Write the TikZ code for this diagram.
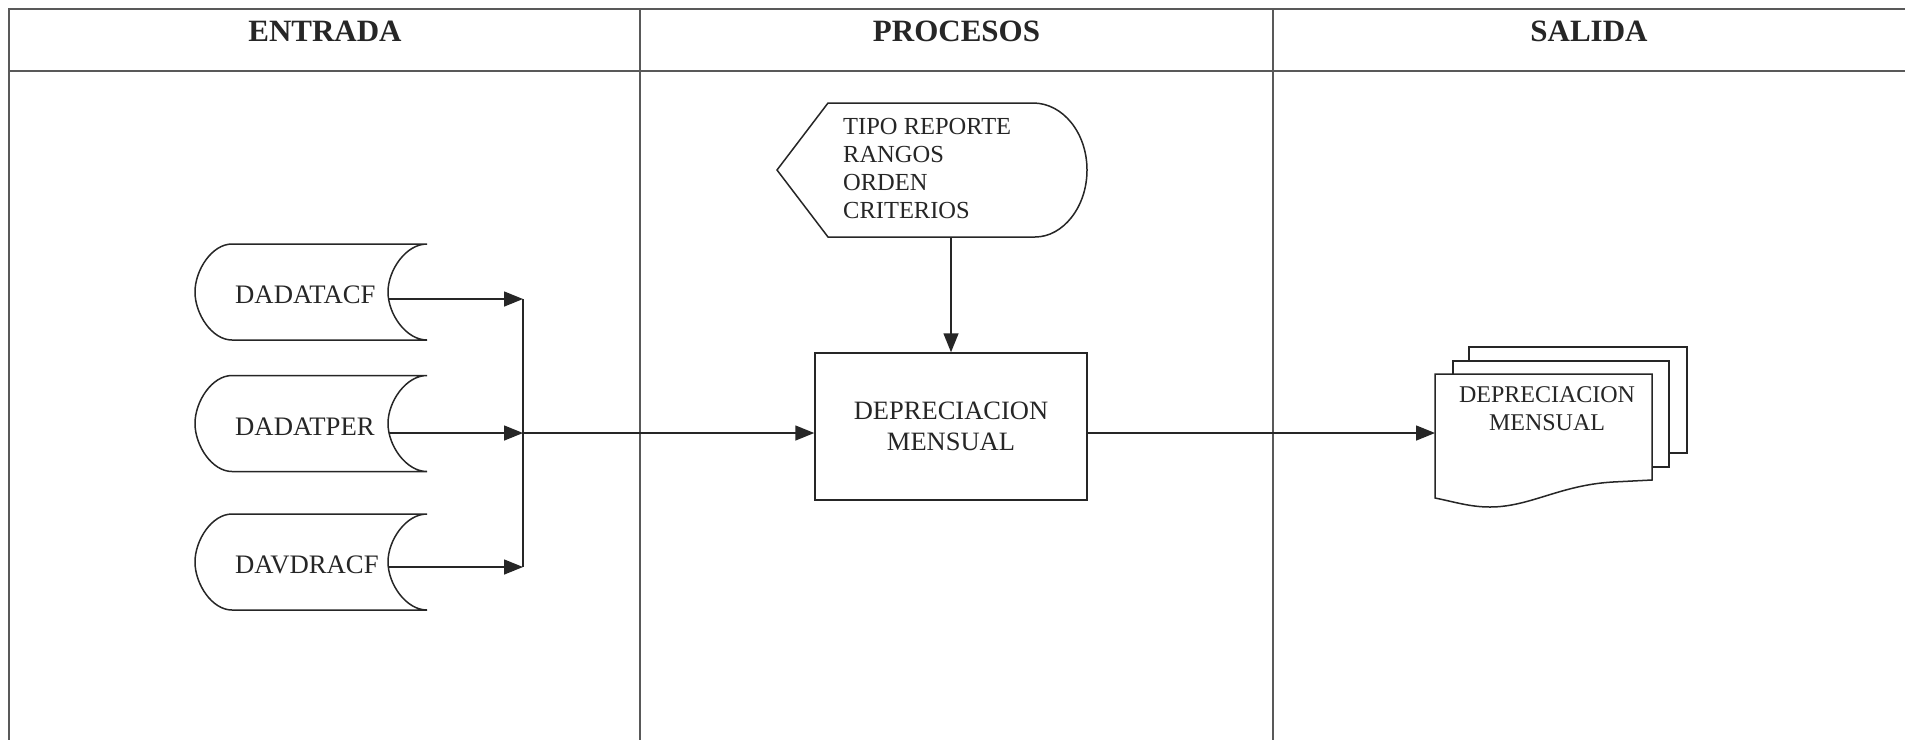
\documentclass[tikz,border=0pt]{standalone}
\usepackage{fontspec}
\setmainfont{Liberation Serif}
\usetikzlibrary{arrows.meta}
\begin{document}
\begin{tikzpicture}[x=1pt,y=-1pt,
  gridline/.style={draw=black!65, line width=1.6pt},
  shp/.style={draw=black!85, line width=1.5pt, fill=white},
  arr/.style={draw=black!85, line width=1.5pt, -{Triangle[length=19pt,width=15pt]}},
  con/.style={draw=black!85, line width=1.5pt},
  hdr/.style={font=\fontsize{31}{37}\selectfont\bfseries, text=black!85, inner sep=0pt, anchor=base},
  lbl/.style={font=\fontsize{26.7}{32}\selectfont, text=black!85, inner sep=0pt, anchor=west},
]
\useasboundingbox[fill=white] (0,0) rectangle (1905,740);

% table
\draw[gridline] (1905,9) -- (9,9) -- (9,740);
\draw[gridline] (9,71) -- (1905,71);
\draw[gridline] (640,9) -- (640,740);
\draw[gridline] (1273,9) -- (1273,740);
\node[hdr] (h1) at (325,41) {ENTRADA};
\node[hdr] (h2) at (956.5,41) {PROCESOS};
\node[hdr] (h3) at (1589,41) {SALIDA};

% stored data shapes
\foreach \n/\cy/\t/\ay in {s1/292/DADATACF/299, s2/423.5/DADATPER/433, s3/562/DAVDRACF/567} {
  \draw[shp] (232,\cy-48) -- (427,\cy-48) .. controls (406,\cy-48) and (388,\cy-22) .. (388,\cy)
    .. controls (388,\cy+22) and (406,\cy+48) .. (427,\cy+48) -- (232,\cy+48)
    .. controls (212,\cy+48) and (195,\cy+22) .. (195,\cy)
    .. controls (195,\cy-22) and (212,\cy-48) .. (232,\cy-48) -- cycle;
  \node[lbl] (\n) at (235,\cy+3) {\t};
  \coordinate (\n-e) at (389,\ay);
}
\coordinate (j1) at (523,299);
\coordinate (j2) at (523,433);
\coordinate (j3) at (523,567);
\draw[arr] (s1-e) -- (j1);
\draw[arr] (s2-e) -- (j2);
\draw[arr] (s3-e) -- (j3);
\draw[con] (j1) -- (j3);

% process box
\node[draw=black!85, line width=1.5pt, minimum width=272pt, minimum height=147pt, align=center,
      font=\fontsize{26.5}{31}\selectfont, text=black!85, inner sep=0pt] (box) at (951,426.5) {DEPRECIACION\\MENSUAL};
\draw[arr] (j2) -- (j2 -| box.west);

% display shape
\draw[shp] (777,170) -- (828,103) -- (1033,103) .. controls (1063,103) and (1087,133) .. (1087,170)
  .. controls (1087,207) and (1063,237) .. (1035,237) -- (828,237) -- cycle;
\node[anchor=west, align=left, font=\fontsize{24.5}{27.7}\selectfont, text=black!85, inner sep=0pt] (disp) at (843,168.5)
  {TIPO REPORTE\\RANGOS\\ORDEN\\CRITERIOS};
\coordinate (dispb) at (951,237);
\draw[arr] (dispb) -- (box.north);

% multi document
\draw[shp] (1469,347) rectangle (1687,453);
\draw[shp] (1453,361) rectangle (1669,467);
\draw[shp] (1435,374) -- (1652,374) -- (1652,480) -- (1613,482)
  .. controls (1560,485) and (1530,507) .. (1490,507)
  .. controls (1470,507) and (1455,502) .. (1435,498) -- cycle;
\node[font=\fontsize{24}{28}\selectfont, align=center, text=black!85, inner sep=0pt] (doc) at (1547,409) {DEPRECIACION\\MENSUAL};
\coordinate (docl) at (1435,433);
\draw[arr] (box.east |- j2) -- (docl);
\end{tikzpicture}
\end{document}
